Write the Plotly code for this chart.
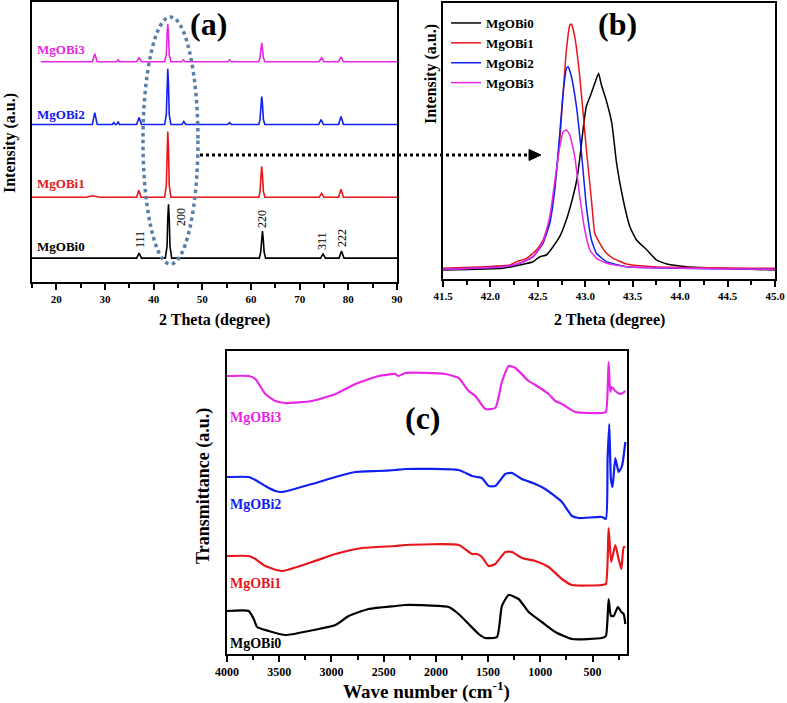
import plotly.graph_objects as go

W, H = 787, 703
SERIES = ["MgOBi0", "MgOBi1", "MgOBi2", "MgOBi3"]
COLORS = ["#000000", "#e8161b", "#1020f0", "#e826e8"]

# ---------------- (a) XRD full pattern: 2theta, intensity above baseline ----------------
xrd_offsets = [24, 85, 158, 221]
xrd0_x = [15, 36.5, 37.0, 37.5, 42.4, 42.75, 42.9, 43.05, 43.2, 43.35, 43.7, 61.7, 62.0, 62.2,
          62.35, 62.5, 62.7, 63.0, 74.3, 74.8, 75.3, 78.1, 78.6, 79.1, 90]
xrd0_y = [0, 0, 5, 0, 0, 12, 40, 54, 40, 12, 0, 0, 6, 20, 27, 20, 6, 0, 0, 4, 0, 0, 7, 0, 0]
xrd1_x = [15, 26, 27.5, 29, 36.5, 36.95, 37.4, 42.25, 42.6, 42.75, 42.9, 43.05, 43.2, 43.55, 61.6,
          61.85, 62.05, 62.2, 62.35, 62.55, 62.85, 74.0, 74.5, 75.0, 78.0, 78.5, 79.0, 90]
xrd1_y = [0, 0, 1.5, 0, 0, 7, 0, 0, 12, 48, 66, 48, 12, 0, 0, 6, 23, 31, 23, 6, 0, 0, 4, 0, 0, 8,
          0, 0]
xrd2_x = [15, 27.4, 27.9, 28.4, 31.5, 31.8, 32.1, 32.4, 32.7, 33.0, 36.5, 37.0, 37.5, 42.25, 42.6,
          42.75, 42.9, 43.05, 43.2, 43.55, 45.8, 46.2, 46.6, 55.2, 55.6, 56.0, 61.6, 61.85, 62.05,
          62.2, 62.35, 62.55, 62.85, 73.9, 74.4, 74.9, 78.0, 78.5, 79.0, 90]
xrd2_y = [0, 0, 12, 0, 0, 2, 0, 0, 3, 0, 0, 7, 0, 0, 10, 40, 56, 40, 10, 0, 0, 3, 0, 0, 2, 0, 0,
          5, 21, 28, 21, 5, 0, 0, 5, 0, 0, 8, 0, 0]
xrd3_x = [16.8, 27.4, 27.9, 28.4, 32.4, 32.7, 33.0, 36.5, 37.0, 37.5, 42.25, 42.6, 42.75, 42.9,
          43.05, 43.2, 43.55, 45.7, 46.1, 46.5, 55.2, 55.6, 56.0, 61.6, 61.85, 62.05, 62.2, 62.35,
          62.55, 62.85, 74.0, 74.5, 75.0, 78.0, 78.5, 79.0, 90]
xrd3_y = [0, 0, 8, 0, 0, 2, 0, 0, 4, 0, 0, 7, 27, 38, 27, 7, 0, 0, 2, 0, 0, 2, 0, 0, 4, 14, 19, 14,
          4, 0, 0, 4, 0, 0, 5, 0, 0]
xrd_x = [xrd0_x, xrd1_x, xrd2_x, xrd3_x]
xrd_y = [xrd0_y, xrd1_y, xrd2_y, xrd3_y]
hkl_labels = ["111", "200", "220", "311", "222"]

# ---------------- (b) zoom on (200) peak ----------------
zb0_x = [41.5, 42.133, 42.309, 42.45, 42.52, 42.59, 42.66, 42.73, 42.80, 42.87, 42.91, 42.94,
         42.98, 43.01, 43.05, 43.10, 43.14, 43.17, 43.22, 43.28, 43.33, 43.40, 43.47, 43.54,
         43.65, 43.75, 43.86, 44.07, 44.42, 45.0]
zb0_y = [9, 10.7, 14, 17.3, 22.3, 24, 32.3, 42.3, 59, 82.3, 99, 119, 152.3, 172.3, 182.3, 195.7,
         205.7, 194, 179, 155.7, 115.7, 79, 52.3, 39, 29, 19, 15, 12.3, 10.7, 9]
zb1_x = [41.5, 41.957, 42.203, 42.274, 42.38, 42.485, 42.555, 42.626, 42.678, 42.731, 42.766,
         42.801, 42.837, 42.854, 42.889, 42.942, 43.012, 43.065, 43.10, 43.153, 43.224, 43.294,
         43.435, 43.716, 45.0]
zb1_y = [10.7, 12.3, 14, 17.3, 20.7, 29, 39, 59, 92.3, 139, 185.7, 229, 254, 255, 242.3, 202.3,
         129, 79, 45.7, 35.7, 25.7, 20.7, 15, 12.3, 10.7]
zb2_x = [41.5, 42.133, 42.309, 42.45, 42.555, 42.626, 42.678, 42.731, 42.766, 42.801, 42.819,
         42.854, 42.907, 42.96, 43.012, 43.065, 43.118, 43.224, 43.435, 45.0]
zb2_y = [9.7, 12.3, 15.7, 22.3, 35.7, 55.7, 89, 145.7, 185.7, 210.7, 212.3, 202.3, 172.3, 125.7,
         72.3, 39, 25.7, 17.3, 12.3, 9.7]
zb3_x = [41.5, 42.133, 42.309, 42.45, 42.555, 42.626, 42.678, 42.731, 42.766, 42.801, 42.837,
         42.889, 42.942, 42.995, 43.048, 43.118, 43.224, 43.435, 45.0]
zb3_y = [9.7, 12.3, 15.7, 22.3, 37.3, 62.3, 97.3, 132.3, 147.3, 149, 144, 122.3, 82.3, 49, 29,
         20.7, 15.7, 12.3, 9.7]
zb_x = [zb0_x, zb1_x, zb2_x, zb3_x]
zb_y = [zb0_y, zb1_y, zb2_y, zb3_y]

# ---------------- (c) FTIR ----------------
ft0_x = [4000, 3792, 3744, 3712, 3601, 3441, 3218, 2962, 2835, 2644, 2388, 2292, 1878, 1782, 1686,
         1590, 1527, 1415, 1368, 1303, 1208, 1112, 985, 857, 697, 410, 372, 346, 324, 298, 257,
         224, 202, 186]
ft0_y = [43, 43, 35, 27, 23, 19, 23, 29, 38, 45, 48, 49, 47, 40, 30, 20, 16, 17, 48, 59, 55, 42,
         32, 22, 15, 16, 18, 55, 38, 38, 47, 42, 40, 30]
ft1_x = [4000, 3792, 3728, 3633, 3473, 3186, 2962, 2708, 2388, 2292, 1782, 1654, 1606, 1559, 1495,
         1431, 1335, 1271, 1176, 1048, 921, 793, 697, 410, 372, 346, 321, 282, 250, 224, 202, 186]
ft1_y = [98, 98, 95, 88, 83, 92, 100, 106, 108, 109, 109, 100, 100, 97, 88, 90, 102, 102, 96, 93,
         87, 75, 69, 69, 70, 126, 92, 109, 95, 85, 107, 107]
ft2_x = [4000, 3792, 3728, 3633, 3537, 3473, 3186, 2962, 2771, 2548, 2388, 2292, 1782, 1654, 1606,
         1559, 1495, 1431, 1335, 1271, 1176, 1048, 953, 793, 697, 633, 410, 372, 356, 340, 324,
         308, 282, 250, 218, 186]
ft2_y = [177, 177, 174, 168, 163, 162, 170, 177, 182, 183, 184, 185, 184, 178, 177, 176, 168, 168,
         180, 181, 175, 170, 165, 152, 138, 136, 137, 135, 195, 230, 175, 167, 196, 182, 188, 212]
ft3_x = [4000, 3792, 3728, 3633, 3537, 3441, 3186, 2962, 2771, 2548, 2388, 2357, 2292, 1910, 1782,
         1686, 1622, 1527, 1431, 1368, 1303, 1239, 1112, 1048, 921, 857, 793, 665, 410, 372, 346,
         330, 315, 282, 230, 186]
ft3_y = [278, 278, 275, 260, 253, 251, 253, 260, 270, 278, 280, 278, 281, 280, 276, 263, 258, 245,
         246, 272, 288, 286, 273, 269, 260, 253, 250, 242, 241, 242, 292, 262, 267, 263, 260, 263]
ft_x = [ft0_x, ft1_x, ft2_x, ft3_x]
ft_y = [ft0_y, ft1_y, ft2_y, ft3_y]


def px(x):
    return x / W


def py(y):
    return 1 - y / H


SERIF = "Liberation Serif, Times New Roman, Times, serif"
fig = go.Figure()

for i in range(4):
    fig.add_trace(go.Scatter(x=xrd_x[i], y=[v + xrd_offsets[i] for v in xrd_y[i]], mode="lines",
                             line=dict(color=COLORS[i], width=1.6), showlegend=False,
                             xaxis="x", yaxis="y"))
for i in range(4):
    fig.add_trace(go.Scatter(x=zb_x[i], y=zb_y[i], mode="lines", name=SERIES[i],
                             line=dict(color=COLORS[i], width=1.5, shape="spline", smoothing=0.4),
                             showlegend=True, xaxis="x2", yaxis="y2"))
for i in range(4):
    fig.add_trace(go.Scatter(x=ft_x[i], y=ft_y[i], mode="lines",
                             line=dict(color=COLORS[i], width=2.2, shape="spline", smoothing=0.5),
                             showlegend=False, xaxis="x3", yaxis="y3"))

tickfont = dict(family=SERIF, size=11, color="black", weight="bold")
common_x = dict(showline=True, linecolor="black", linewidth=2, mirror=True, ticks="outside",
                ticklen=6, tickwidth=2, tickcolor="black", showgrid=False, zeroline=False,
                tickfont=tickfont, automargin=False)
common_y = dict(showline=True, linecolor="black", linewidth=2, mirror=True, ticks="",
                showticklabels=False, showgrid=False, zeroline=False, automargin=False)

fig.update_layout(
    width=W, height=H, margin=dict(l=0, r=0, t=0, b=0, pad=0, autoexpand=False),
    paper_bgcolor="white", plot_bgcolor="white",
    xaxis=dict(domain=[px(32), px(397)], range=[15, 90], tick0=0, dtick=10, anchor="y",
               minor=dict(ticks="outside", ticklen=4, tickwidth=1.5, tickcolor="black", dtick=5),
               **common_x),
    yaxis=dict(domain=[py(282), py(2)], range=[0, 281], anchor="x", **common_y),
    xaxis2=dict(domain=[px(443), px(775)], range=[41.5, 45], tick0=0, dtick=0.5, tickformat=".1f",
                anchor="y2",
                minor=dict(ticks="outside", ticklen=4, tickwidth=1.5, tickcolor="black", dtick=0.25),
                **common_x),
    yaxis2=dict(domain=[py(279), py(3)], range=[0, 276], anchor="x2", **common_y),
    xaxis3=dict(domain=[px(227), px(627)], range=[4000, 170], tick0=0, dtick=500, anchor="y3",
                minor=dict(ticks="outside", ticklen=4, tickwidth=1.5, tickcolor="black", dtick=250),
                **common_x),
    yaxis3=dict(domain=[py(654), py(351)], range=[0, 303], anchor="x3", **common_y),
    legend=dict(x=px(446), y=py(8), xanchor="left", yanchor="top", bgcolor="rgba(0,0,0,0)",
                font=dict(family=SERIF, size=13, color="black", weight="bold"),
                itemwidth=30, tracegroupgap=0),
)
fig.update_layout(xaxis3_tickfont=dict(family=SERIF, size=12, color="black", weight="bold"))

ann = []


def text(x, y, t, size, color="black", bold=True, angle=0, xanchor="center"):
    ann.append(dict(x=px(x), y=py(y), xref="paper", yref="paper", text=t, showarrow=False,
                    textangle=angle, xanchor=xanchor, yanchor="middle",
                    font=dict(family=SERIF, size=size, color=color,
                              weight="bold" if bold else "normal")))


# panel letters
text(208, 24, "(a)", 32)
text(617, 24, "(b)", 32)
text(423, 418, "(c)", 32)
# axis titles
text(214, 320, "2 Theta (degree)", 16)
text(609, 320, "2 Theta (degree)", 16)
text(10, 143, "Intensity (a.u.)", 16, angle=-90)
text(431, 74, "Intensity (a.u.)", 16, angle=-90)
text(427, 690, "Wave number (cm<sup>-1</sup>)", 19)
text(203, 486, "Transmittance (a.u.)", 18, angle=-90)
# series labels (a)
for lab, yy, c in zip(SERIES, [247, 183, 114, 50], COLORS):
    text(35, yy, lab, 13, color=c, xanchor="left")
# series labels (c)
for lab, yy, c in zip(SERIES, [643, 583, 504, 417], COLORS):
    text(228, yy, lab, 14, color=c, xanchor="left")
# hkl labels
for lab, xx, yy in zip(hkl_labels, [140, 181, 262, 322, 342], [240, 217, 219, 241, 238]):
    text(xx, yy, lab, 12, bold=False, angle=-90)
fig.update_layout(annotations=ann)

shapes = [
    dict(type="circle", xref="x", yref="y", x0=37.8, x1=49.1, y0=18, y1=266,
         line=dict(color="#5a7fa8", width=3.5, dash="dot")),
    dict(type="line", xref="paper", yref="paper", x0=px(200), x1=px(532), y0=py(155), y1=py(155),
         line=dict(color="black", width=3, dash="dot")),
    dict(type="path", xref="paper", yref="paper",
         path=f"M {px(541)} {py(155)} L {px(529)} {py(149.5)} L {px(529)} {py(160.5)} Z",
         fillcolor="black", line=dict(color="black", width=1)),
]
fig.update_layout(shapes=shapes)

fig.write_html(
    "out.html",
    config={"displayModeBar": False, "responsive": False},
    post_script=("document.body.style.margin='0';document.body.style.overflow='hidden';"
                 "document.documentElement.style.overflow='hidden';"),
)
